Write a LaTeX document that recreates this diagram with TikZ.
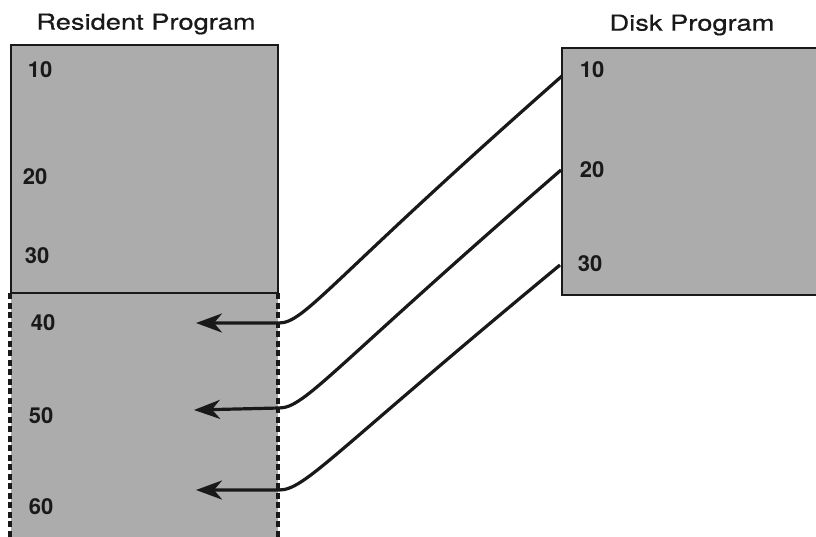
\documentclass[tikz,border=0pt]{standalone}
\usepackage{fontspec}
\setmainfont{TeX Gyre Heros}
\newfontfamily\titlefont[FakeStretch=1.24,FakeBold=0.6]{TeX Gyre Heros}
\usetikzlibrary{arrows.meta}
\definecolor{paper}{RGB}{172,172,172}
\definecolor{ink}{RGB}{25,25,25}
\tikzset{
  membox/.style={draw=ink, line width=2pt, fill=paper},
  title/.style={font=\titlefont\fontsize{22}{22}\selectfont, text=ink, inner sep=0pt},
  linenum/.style={font=\bfseries\fontsize{22}{22}\selectfont, text=ink, inner sep=0pt},
  link/.style={draw=ink, line width=3.2pt, -{Stealth[length=26pt,width=19pt,inset=8pt]}},
  dashedge/.style={draw=ink, line width=3.2pt, dash pattern=on 6pt off 3.5pt}
}
\begin{document}
\begin{tikzpicture}[x=1pt,y=-1pt]
\useasboundingbox (0,0) rectangle (816,536);
\clip (0,0) rectangle (816,536);
% resident program
\path[membox] (11,45) rectangle (278,293);
\fill[paper] (11,293) rectangle (278,545);
\draw[dashedge] (10,293) -- (10,545);
\draw[dashedge] (278,293) -- (278,545);
\draw[draw=ink, line width=2pt] (11,293) -- (278,293);
% disk program
\path[membox] (562,48) rectangle (830,295);
% titles
\node[title] (rtitle) at (146,24) {Resident Program};
\node[title] (dtitle) at (692,25) {Disk Program};
% numbers
\node[linenum] (r10) at (40,70) {10};
\node[linenum] (r20) at (35,177) {20};
\node[linenum] (r30) at (37,256) {30};
\node[linenum] (r40) at (43,323) {40};
\node[linenum] (r50) at (41,416) {50};
\node[linenum] (r60) at (41,507) {60};
\node[linenum] (d10) at (592,70) {10};
\node[linenum] (d20) at (592,170) {20};
\node[linenum] (d30) at (590,264) {30};
% connector ends
\coordinate (s1) at (562,76);
\coordinate (s2) at (561,170);
\coordinate (s3) at (560,265);
\coordinate (e1) at (279,323);
\coordinate (e2) at (279,408);
\coordinate (e3) at (279,490);
\coordinate (t1) at (196,323);
\coordinate (t2) at (194,410);
\coordinate (t3) at (196,490);
\draw[link] (s1) .. controls (330,280) and (305,323) .. (e1) -- (t1);
\draw[link] (s2) .. controls (330,370) and (305,408) .. (e2) -- (t2);
\draw[link] (s3) .. controls (330,455) and (305,490) .. (e3) -- (t3);
\end{tikzpicture}
\end{document}
